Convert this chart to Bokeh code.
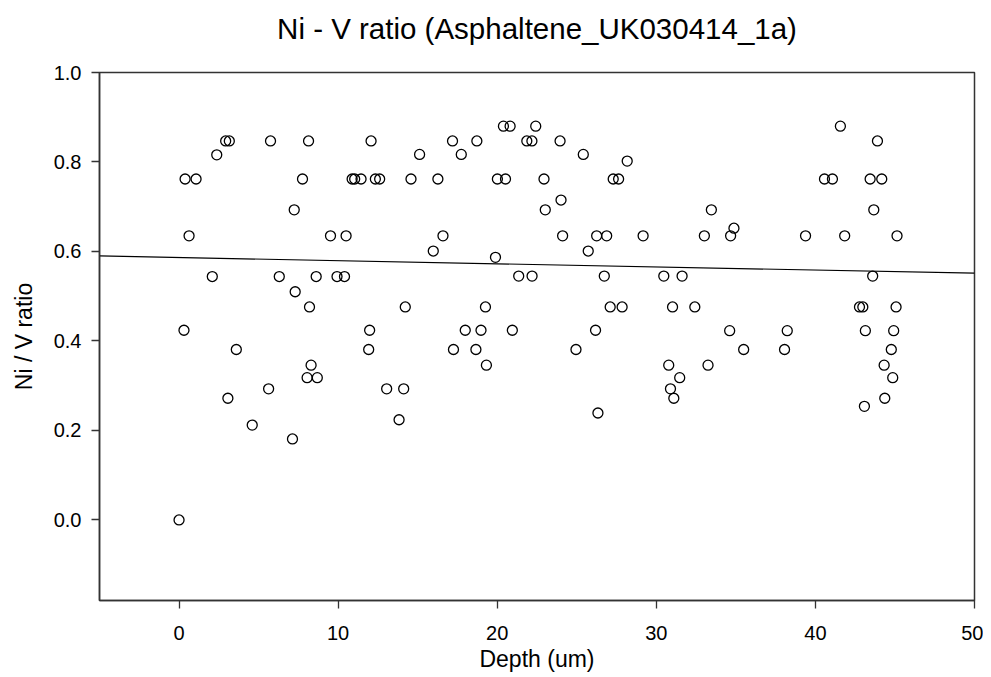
import numpy as np
from bokeh.plotting import figure
from bokeh.models import Range1d, FixedTicker, Title, CustomJSTickFormatter
from bokeh.embed import file_html
from bokeh.resources import INLINE

depth = [0.00, 0.31, 0.38, 0.63, 1.07, 2.09, 2.37, 2.93, 3.16, 3.07, 3.60, 4.60,
         5.63, 5.75, 6.30, 7.13, 7.24, 7.30, 7.76, 8.05, 8.14, 8.20, 8.30, 8.62,
         8.69, 9.52, 9.93, 10.40, 10.50, 10.88, 11.04, 11.44, 11.92, 11.98, 12.07,
         12.34, 12.61, 13.05, 13.83, 14.12, 14.22, 14.58, 15.12, 15.98, 16.27,
         16.59, 17.19, 17.25, 17.74, 17.99, 18.66, 18.72, 18.98, 19.26, 19.32,
         19.89, 20.01, 20.39, 20.52, 20.81, 20.95, 21.35, 21.86, 22.18, 22.19,
         22.42, 22.94, 23.02, 23.95, 24.01, 24.11, 24.95, 25.41, 25.72, 26.18,
         26.25, 26.33, 26.73, 26.88, 27.10, 27.29, 27.63, 27.85, 28.17, 29.17,
         30.47, 30.78, 30.89, 31.02, 31.10, 31.47, 31.62, 32.42, 33.02, 33.25,
         33.46, 34.61, 34.67, 34.88, 35.49, 38.06, 38.23, 39.38, 40.57, 41.07,
         41.57, 41.84, 42.77, 42.98, 43.08, 43.14, 43.44, 43.60, 43.67, 43.90,
         44.17, 44.32, 44.36, 44.77, 44.86, 44.92, 45.07, 45.13]
ratio = [0.000, 0.424, 0.762, 0.635, 0.762, 0.544, 0.816, 0.847, 0.847, 0.272, 0.381, 0.212,
         0.293, 0.847, 0.544, 0.181, 0.693, 0.510, 0.762, 0.318, 0.847, 0.476, 0.346, 0.544,
         0.318, 0.635, 0.544, 0.544, 0.635, 0.762, 0.762, 0.762, 0.381, 0.424, 0.847,
         0.762, 0.762, 0.293, 0.224, 0.293, 0.476, 0.762, 0.817, 0.601, 0.762,
         0.635, 0.847, 0.381, 0.817, 0.424, 0.381, 0.847, 0.424, 0.476, 0.346,
         0.587, 0.762, 0.880, 0.762, 0.880, 0.424, 0.545, 0.847, 0.847, 0.545,
         0.880, 0.762, 0.693, 0.847, 0.715, 0.635, 0.381, 0.817, 0.601, 0.424,
         0.635, 0.239, 0.545, 0.635, 0.476, 0.762, 0.762, 0.476, 0.802, 0.635,
         0.545, 0.346, 0.293, 0.476, 0.272, 0.318, 0.545, 0.476, 0.635, 0.346,
         0.693, 0.423, 0.635, 0.652, 0.381, 0.381, 0.423, 0.635, 0.762, 0.762,
         0.880, 0.635, 0.476, 0.476, 0.254, 0.423, 0.762, 0.545, 0.693, 0.847,
         0.762, 0.346, 0.272, 0.381, 0.318, 0.423, 0.476, 0.635]

x_ticks = [0, 10, 20, 30, 40, 50]
y_ticks = [0.0, 0.2, 0.4, 0.6, 0.8, 1.0]
title_text = "Ni - V ratio (Asphaltene_UK030414_1a)"
x_label = "Depth (um)"
y_label = "Ni / V ratio"

FONT = "Liberation Sans"

W, H = 983, 676
p = figure(width=W, height=H, output_backend="svg", toolbar_location=None,
           x_range=Range1d(-5, 50), y_range=Range1d(-0.18, 1.0),
           min_border_left=99, min_border_right=9, min_border_top=72,
           min_border_bottom=76)
# spacer between title and frame (closest to the frame)
p.add_layout(Title(text=" ", text_font=FONT, text_font_size="1px",
                   standoff=25), "above")
p.title = Title(text=title_text, text_font=FONT, text_font_size="29.5px",
                text_font_style="normal", align="center", standoff=0,
                text_color="black")
p.grid.visible = False
p.outline_line_color = "#333333"
p.outline_line_width = 1.5

for ax in (p.xaxis[0], p.yaxis[0]):
    ax.axis_line_color = "#333333"
    ax.axis_line_width = 1.5
    ax.major_tick_line_color = "#333333"
    ax.major_tick_line_width = 1.3
    ax.major_tick_in = 0
    ax.major_tick_out = 8
    ax.minor_tick_line_color = None
    ax.major_label_text_font = FONT
    ax.major_label_text_font_size = "20px"
    ax.major_label_text_color = "black"
    ax.axis_label_text_font = FONT
    ax.axis_label_text_font_size = "23px"
    ax.axis_label_text_font_style = "normal"
    ax.axis_label_text_color = "black"

p.xaxis.ticker = FixedTicker(ticks=x_ticks)
p.yaxis.ticker = FixedTicker(ticks=y_ticks)
p.yaxis.formatter = CustomJSTickFormatter(code="return tick.toFixed(1);")
p.xaxis.axis_label = x_label
p.yaxis.axis_label = y_label
p.xaxis.major_label_standoff = 17
p.yaxis.major_label_standoff = 10
p.xaxis.axis_label_standoff = 3
p.yaxis.axis_label_standoff = 14

# linear regression line
xa = np.array(depth)
ya = np.array(ratio)
slope, intercept = np.polyfit(xa, ya, 1)
xr = np.array([p.x_range.start, p.x_range.end])
p.line(xr, intercept + slope * xr, line_color="black", line_width=1.2)

p.scatter(depth, ratio, size=10, marker="circle", fill_alpha=0,
          line_color="black", line_width=1.3)

open("out.html", "w").write(file_html(p, INLINE))
